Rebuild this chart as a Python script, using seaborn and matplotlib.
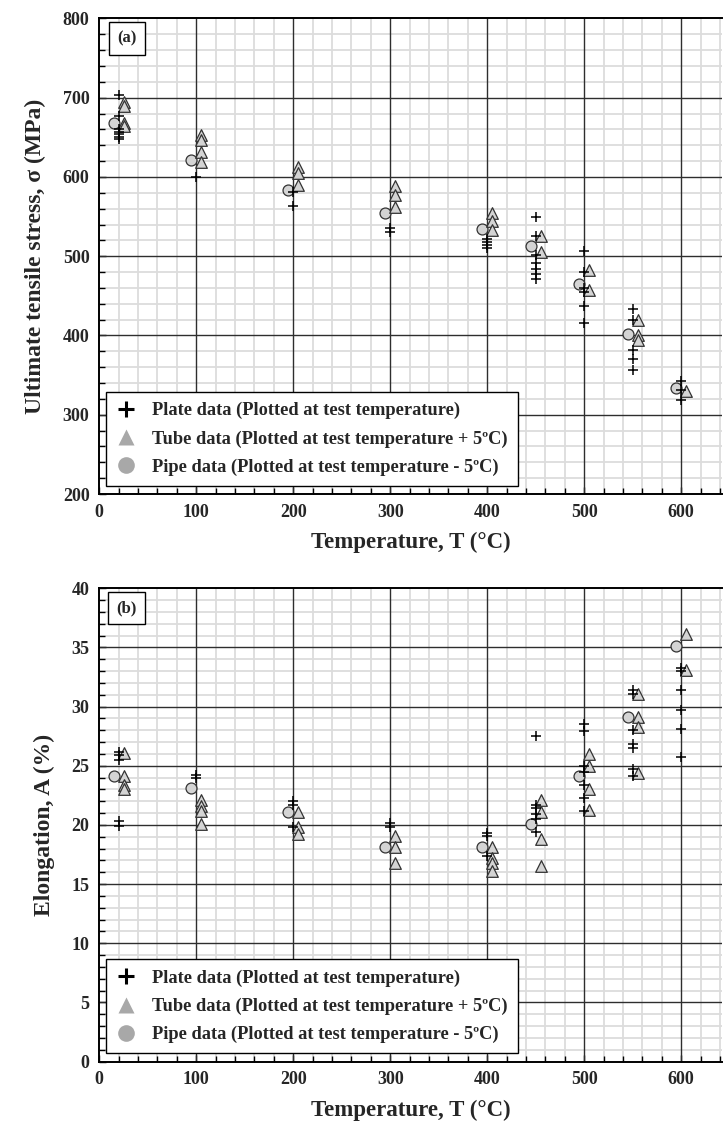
import numpy as np
import pandas as pd
import matplotlib
matplotlib.use("Agg")
import matplotlib.pyplot as plt
from matplotlib.ticker import MultipleLocator, FixedLocator
from matplotlib.lines import Line2D
import seaborn as sns

# ---------------- data: panel (a) ultimate tensile stress ----------------
plate_uts_T = [20]*7 + [100] + [200]*2 + [300]*2 + [400]*4 + [450]*7 + [500]*6 + [550]*5 + [600]*3
plate_uts = [703, 677, 660, 657, 654, 651, 648,
             600,
             581, 563,
             535, 530,
             522, 518, 514, 510,
             550, 525, 501, 491, 484, 478, 471,
             506, 480, 460, 455, 437, 416,
             433, 420, 382, 370, 357,
             343, 331, 318]
tube_uts_T = [25]*4 + [105]*4 + [205]*3 + [305]*3 + [405]*3 + [455]*2 + [505]*2 + [555]*3 + [605]
tube_uts = [694, 689, 668, 664,
            653, 647, 632, 619,
            613, 605, 590,
            589, 577, 562,
            554, 545, 533,
            526, 505,
            482, 457,
            419, 400, 394,
            330]
pipe_uts_T = [15, 95, 195, 295, 395, 445, 495, 545, 595]
pipe_uts = [668, 621, 584, 555, 534, 513, 465, 402, 334]

# ---------------- data: panel (b) elongation ----------------
plate_el_T = [20]*5 + [100]*2 + [200]*3 + [300]*2 + [400]*3 + [450]*6 + [500]*7 + [550]*7 + [600]*6
plate_el = [26.2, 25.9, 25.5, 20.3, 19.9,
            24.2, 24.0,
            22.0, 21.7, 19.8,
            20.2, 19.8,
            19.3, 19.1, 17.4,
            27.5, 21.7, 21.4, 20.9, 20.5, 19.4,
            28.5, 27.9, 25.0, 24.5, 23.4, 22.3, 21.2,
            31.4, 31.1, 28.0, 26.8, 26.5, 24.7, 24.1,
            33.3, 33.0, 31.4, 29.7, 28.1, 25.7]
tube_el_T = [25]*4 + [105]*4 + [205]*3 + [305]*3 + [405]*4 + [455]*4 + [505]*4 + [555]*4 + [605]*2
tube_el = [26.1, 24.1, 23.4, 23.0,
           22.1, 21.6, 21.2, 20.1,
           21.1, 19.8, 19.2,
           19.1, 18.1, 16.8,
           18.1, 17.2, 16.8, 16.1,
           22.1, 21.1, 18.8, 16.5,
           26.0, 25.0, 23.0, 21.3,
           31.1, 29.1, 28.3, 24.4,
           36.1, 33.1]
pipe_el_T = [15, 95, 195, 295, 395, 445, 495, 545, 595]
pipe_el = [24.1, 23.1, 21.1, 18.1, 18.1, 20.1, 24.1, 29.1, 35.1]

x_ticks = [0, 100, 200, 300, 400, 500, 600]
legend_labels = ["Plate data (Plotted at test temperature)",
                 "Tube data (Plotted at test temperature + 5\u00baC)",
                 "Pipe data (Plotted at test temperature - 5\u00baC)"]

sns.set_style("white")
plt.rcParams['font.family'] = ['Liberation Serif', 'DejaVu Serif']
plt.rcParams['font.weight'] = 'bold'

fig = plt.figure(figsize=(7.23, 11.22), dpi=100)
ax_a = fig.add_axes([0.1373, 0.5597, 0.8613, 0.4239])
ax_b = fig.add_axes([0.1373, 0.0539, 0.8613, 0.4218])

FILL = '#d4d4d4'
EDGE = '#333333'


def draw(ax, pT, pv, tT, tv, cT, cv):
    dp = pd.DataFrame({'T': pT, 'v': pv})
    dt = pd.DataFrame({'T': tT, 'v': tv})
    dc = pd.DataFrame({'T': cT, 'v': cv})
    sns.scatterplot(data=dc, x='T', y='v', marker='o', s=62, color=FILL,
                    edgecolor=EDGE, linewidth=0.9, ax=ax, zorder=3, legend=False)
    sns.scatterplot(data=dt, x='T', y='v', marker='^', s=70, color=FILL,
                    edgecolor=EDGE, linewidth=0.9, ax=ax, zorder=4, legend=False)
    sns.scatterplot(data=dp, x='T', y='v', marker='+', s=45, color='black',
                    linewidth=1.1, ax=ax, zorder=5, legend=False)


def style(ax, ylim, ymaj, ymin, ylabel, tag):
    ax.set_xlim(0, 642)
    ax.set_ylim(*ylim)
    ax.set_xticks(x_ticks)
    ax.yaxis.set_major_locator(MultipleLocator(ymaj))
    xminor = [v for v in range(0, 660, 20) if v % 100 != 0]
    nmin = int(round((ylim[1] - ylim[0]) / ymin))
    yminor = [ylim[0] + i * ymin for i in range(nmin + 1)]
    yminor = [v for v in yminor if abs((v / ymaj) - round(v / ymaj)) > 1e-6]
    ax.xaxis.set_minor_locator(FixedLocator(xminor))
    ax.yaxis.set_minor_locator(FixedLocator(yminor))
    ax.set_axisbelow(True)
    # light minor grid from the axes, dark major grid drawn on top of it
    ax.grid(which='minor', color='#dcdcdc', linewidth=1.3)
    ax.grid(which='major', visible=False)
    for xv in x_ticks[1:]:
        ax.axvline(xv, color='#2e2e2e', linewidth=1.0, zorder=1)
    yv = ylim[0] + ymaj
    while yv < ylim[1] - 1e-9:
        ax.axhline(yv, color='#2e2e2e', linewidth=1.0, zorder=1)
        yv += ymaj
    for s in ['left', 'bottom', 'top']:
        ax.spines[s].set_visible(True)
        ax.spines[s].set_color('black')
        ax.spines[s].set_linewidth(1.4)
    ax.spines['right'].set_visible(False)
    ax.tick_params(which='both', direction='in', left=True, bottom=True,
                   top=False, right=False, color='black')
    ax.tick_params(which='major', length=5, width=1, labelsize=13, pad=7)
    ax.tick_params(which='minor', length=4, width=1)
    for lab in ax.get_xticklabels() + ax.get_yticklabels():
        lab.set_fontweight('bold')
    ax.set_xlabel('Temperature, T (\u00b0C)', fontsize=16.5, fontweight='bold', labelpad=8)
    ax.set_ylabel(ylabel, fontsize=17, fontweight='bold', labelpad=12)
    ax.text(0.0443, 0.958, tag, transform=ax.transAxes, fontsize=12,
            fontweight='bold', ha='center', va='center',
            bbox=dict(boxstyle='square,pad=0.5', fc='white', ec='black', lw=1.0),
            zorder=6)
    handles = [
        Line2D([], [], ls='', marker='+', color='black', markersize=12, mew=2.2),
        Line2D([], [], ls='', marker='^', color='#a8a8a8', mec='none', markersize=11),
        Line2D([], [], ls='', marker='o', color='#a8a8a8', mec='none', markersize=12),
    ]
    leg = ax.legend(handles, legend_labels, loc='lower left',
                    bbox_to_anchor=(0.0116, 0.017), frameon=True, fancybox=False,
                    framealpha=1.0, edgecolor='black', prop={'weight': 'bold', 'size': 13.2},
                    handlelength=1.0, handletextpad=0.95, labelspacing=0.6,
                    borderpad=0.55, borderaxespad=0.0)
    leg.get_frame().set_linewidth(1.0)
    leg.set_zorder(7)


draw(ax_a, plate_uts_T, plate_uts, tube_uts_T, tube_uts, pipe_uts_T, pipe_uts)
style(ax_a, (200, 800), 100, 20, 'Ultimate tensile stress, \u03c3 (MPa)', '(a)')

draw(ax_b, plate_el_T, plate_el, tube_el_T, tube_el, pipe_el_T, pipe_el)
style(ax_b, (0, 40), 5, 1, 'Elongation, A (%)', '(b)')

fig.savefig('out.png', dpi=100)
